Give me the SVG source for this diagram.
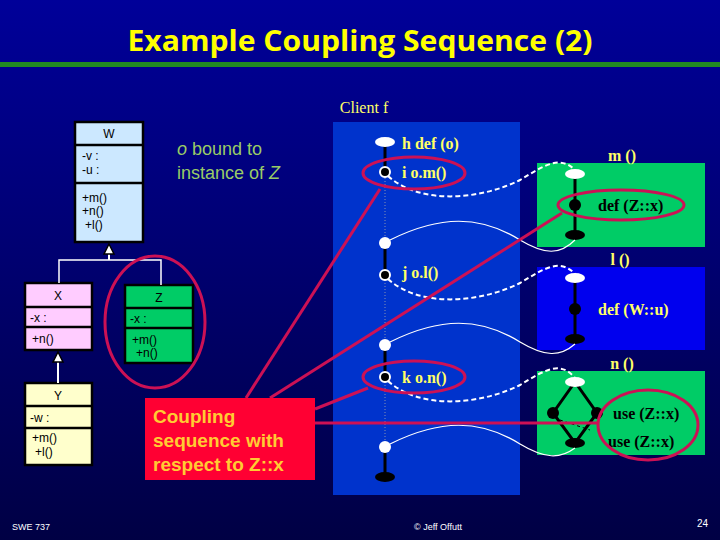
<svg xmlns="http://www.w3.org/2000/svg" width="720" height="540" viewBox="0 0 720 540">
<defs>
<linearGradient id="bg" x1="0" y1="0" x2="0" y2="1"><stop offset="0" stop-color="#000099"/><stop offset="1" stop-color="#000044"/></linearGradient>
<marker id="tri" viewBox="0 0 10 10" refX="5" refY="1" markerWidth="9" markerHeight="10" orient="auto" markerUnits="userSpaceOnUse"><path d="M5,0 L10,10 L0,10 Z" fill="#fff" stroke="#000" stroke-width="1.5"/></marker>
</defs>
<style>
.cls{stroke:#000;stroke-width:2.5}
.ct{font-family:"Liberation Sans",Arial,sans-serif;font-size:12px;fill:#000}
.y{font-family:"Liberation Serif","Times New Roman",serif;font-weight:bold;font-size:16px;fill:#ffff66}
.wl{stroke:#fff;stroke-width:1.2;fill:none}
.dl{stroke:#fff;stroke-width:2;fill:none;stroke-dasharray:5,3}
.red{stroke:#cc1155;stroke-width:3;fill:none}
.bk{stroke:#000;stroke-width:3}
</style>
<rect width="720" height="540" fill="url(#bg)"/>
<text x="360" y="51" text-anchor="middle" font-family="Open Sans,sans-serif" font-weight="bold" font-size="28" fill="#ffff00" textLength="465" lengthAdjust="spacingAndGlyphs">Example Coupling Sequence (2)</text>
<rect x="0" y="62" width="720" height="5" fill="#228B22"/>
<text x="364" y="113" text-anchor="middle" class="y" style="font-weight:normal">Client f</text>

<g id="W"><rect x="75" y="122" width="68" height="120" fill="#cce8ff" class="cls"/><line x1="75" y1="145" x2="143" y2="145" class="cls"/><line x1="75" y1="183" x2="143" y2="183" class="cls"/>
<text x="109" y="138" text-anchor="middle" class="ct">W</text><text x="82" y="160" class="ct" font-size="11">-v :</text><text x="82" y="174" class="ct" font-size="11">-u :</text>
<text x="82" y="202" class="ct" font-size="11">+m()</text><text x="82" y="215" class="ct" font-size="11">+n()</text><text x="85" y="229" class="ct" font-size="11">+l()</text></g>
<g id="X"><rect x="25" y="283" width="67" height="67" fill="#ffccff" class="cls"/><line x1="25" y1="307" x2="92" y2="307" class="cls"/><line x1="25" y1="327" x2="92" y2="327" class="cls"/>
<text x="58" y="300" text-anchor="middle" class="ct">X</text><text x="30" y="322" class="ct" font-size="11">-x :</text><text x="32" y="343" class="ct" font-size="11">+n()</text></g>
<g id="Z"><rect x="125" y="285" width="68" height="78" fill="#00cc66" class="cls"/><line x1="125" y1="308" x2="193" y2="308" class="cls"/><line x1="125" y1="328" x2="193" y2="328" class="cls"/>
<text x="159" y="302" text-anchor="middle" class="ct">Z</text><text x="130" y="323" class="ct" font-size="11">-x :</text><text x="132" y="344" class="ct" font-size="11">+m()</text><text x="136" y="357" class="ct" font-size="11">+n()</text></g>
<g id="Y"><rect x="25" y="383" width="67" height="82" fill="#ffffcc" class="cls"/><line x1="25" y1="406" x2="92" y2="406" class="cls"/><line x1="25" y1="428" x2="92" y2="428" class="cls"/>
<text x="58" y="400" text-anchor="middle" class="ct">Y</text><text x="30" y="422" class="ct" font-size="11">-w :</text><text x="32" y="442" class="ct" font-size="11">+m()</text><text x="35" y="456" class="ct" font-size="11">+l()</text></g>
<g id="inherit"><path d="M59,283 V260 H161 V285" stroke="#fff" stroke-width="1.5" fill="none"/>
<line x1="109" y1="260" x2="109" y2="254" stroke="#fff" stroke-width="2"/><path d="M109,244 L114,254 L104,254 Z" fill="#fff" stroke="#000" stroke-width="1.5"/>
<line x1="58" y1="383" x2="58" y2="362" stroke="#fff" stroke-width="2"/><path d="M58,352 L63,362 L53,362 Z" fill="#fff" stroke="#000" stroke-width="1.5"/></g>

<text x="177" y="155" font-family="Liberation Sans,sans-serif" font-size="18" fill="#99cc66"><tspan font-style="italic">o</tspan> bound to</text>
<text x="177" y="179" font-family="Liberation Sans,sans-serif" font-size="18" fill="#99cc66">instance of <tspan font-style="italic">Z</tspan></text>

<g id="client"><rect x="333" y="122" width="187" height="373" fill="#0033cc"/>
<line x1="385" y1="142" x2="385" y2="477" stroke="#aaa" stroke-width="0.8" stroke-dasharray="1,2"/>
<line x1="385" y1="142" x2="385" y2="172" class="bk"/><line x1="385" y1="243" x2="385" y2="275" class="bk"/><line x1="385" y1="345" x2="385" y2="377" class="bk"/><line x1="385" y1="447" x2="385" y2="477" class="bk"/>
<ellipse cx="385" cy="142" rx="10" ry="5" fill="#fff"/>
<circle cx="385" cy="172" r="5" fill="#000" stroke="#fff" stroke-width="2"/>
<circle cx="385" cy="243" r="6" fill="#fff"/>
<circle cx="385" cy="275" r="5" fill="#000" stroke="#fff" stroke-width="2"/>
<circle cx="385" cy="345" r="6" fill="#fff"/>
<circle cx="385" cy="377" r="5" fill="#000" stroke="#fff" stroke-width="2"/>
<circle cx="385" cy="447" r="6" fill="#fff"/>
<ellipse cx="385" cy="477" rx="10" ry="5" fill="#000"/>
<text x="402" y="149" class="y">h def (o)</text><text x="402" y="178" class="y">i  o.m()</text>
<text x="402" y="278" class="y">j  o.l()</text><text x="402" y="383" class="y">k  o.n()</text></g>

<g id="m"><rect x="537" y="163" width="168" height="84" fill="#00cc66"/>
<line x1="575" y1="174" x2="575" y2="235" class="bk"/><ellipse cx="575" cy="174" rx="10" ry="5" fill="#fff"/><circle cx="575" cy="205" r="6" fill="#000"/><ellipse cx="575" cy="235" rx="10" ry="5" fill="#000"/>
<text x="622" y="161" text-anchor="middle" class="y">m ()</text><text x="598" y="211" class="y" style="fill:#000">def (Z::x)</text></g>
<g id="l"><rect x="537" y="267" width="168" height="83" fill="#0000ee"/>
<line x1="575" y1="278" x2="575" y2="339" class="bk"/><ellipse cx="575" cy="278" rx="10" ry="5" fill="#fff"/><circle cx="575" cy="309" r="6" fill="#000"/><ellipse cx="575" cy="339" rx="10" ry="5" fill="#000"/>
<text x="620" y="265" text-anchor="middle" class="y">l ()</text><text x="598" y="315" class="y">def (W::u)</text></g>
<g id="n"><rect x="537" y="371" width="168" height="84" fill="#00cc66"/>
<path d="M575,382 L553,413 L575,443 L597,413 Z" class="bk" fill="none"/><path d="M560,420 L590,430" stroke="#000" stroke-width="1" stroke-dasharray="3,3"/>
<ellipse cx="575" cy="382" rx="10" ry="5" fill="#fff"/><circle cx="553" cy="413" r="6" fill="#000"/><circle cx="597" cy="413" r="6" fill="#000"/><ellipse cx="575" cy="443" rx="10" ry="5" fill="#000"/>
<text x="622" y="369" text-anchor="middle" class="y">n ()</text><text x="613" y="419" class="y" style="fill:#000">use (Z::x)</text><text x="608" y="447" class="y" style="fill:#000">use (Z::x)</text></g>

<g id="connectors">
<path d="M388,176 C420,205 480,200 520,180 C545,165 560,155 575,170" class="dl"/>
<path d="M388,279 C420,308 480,303 520,283 C545,268 560,258 575,274" class="dl"/>
<path d="M388,381 C420,410 480,405 520,385 C545,370 560,360 575,378" class="dl"/>
<path d="M390,240 C440,215 480,215 520,240 C545,255 560,255 575,240" class="wl"/>
<path d="M390,342 C440,317 480,317 520,342 C545,357 560,357 575,344" class="wl"/>
<path d="M390,444 C440,419 480,419 520,444 C545,459 560,459 575,448" class="wl"/>
</g>

<g id="highlights">
<ellipse cx="155" cy="322" rx="50" ry="66" class="red"/>
<ellipse cx="414" cy="173" rx="51" ry="16" class="red"/>
<ellipse cx="414" cy="377" rx="51" ry="16" class="red"/>
<ellipse cx="621" cy="205" rx="63" ry="15" class="red"/>
<ellipse cx="648" cy="425" rx="50" ry="35" class="red"/>
<line x1="246" y1="398" x2="380" y2="189" class="red"/>
<line x1="270" y1="398" x2="562" y2="213" class="red"/>
<line x1="315" y1="409" x2="368" y2="388" class="red"/>
<line x1="315" y1="423" x2="599" y2="423" class="red"/>
</g>
<g id="note"><rect x="145" y="398" width="170" height="82" fill="#ff0033"/>
<text font-family="Liberation Sans,Arial,sans-serif" font-weight="bold" font-size="19" fill="#ffcc33"><tspan x="153" y="423">Coupling</tspan><tspan x="153" y="447">sequence with</tspan><tspan x="153" y="471">respect to Z::x</tspan></text></g>
<text x="12" y="530" font-family="Liberation Sans,sans-serif" font-size="9" fill="#fff">SWE 737</text>
<text x="438" y="530" text-anchor="middle" font-family="Liberation Sans,sans-serif" font-size="9" fill="#fff">© Jeff Offutt</text>
<text x="708" y="527" text-anchor="end" font-family="Liberation Sans,sans-serif" font-size="10" fill="#fff">24</text>
</svg>
